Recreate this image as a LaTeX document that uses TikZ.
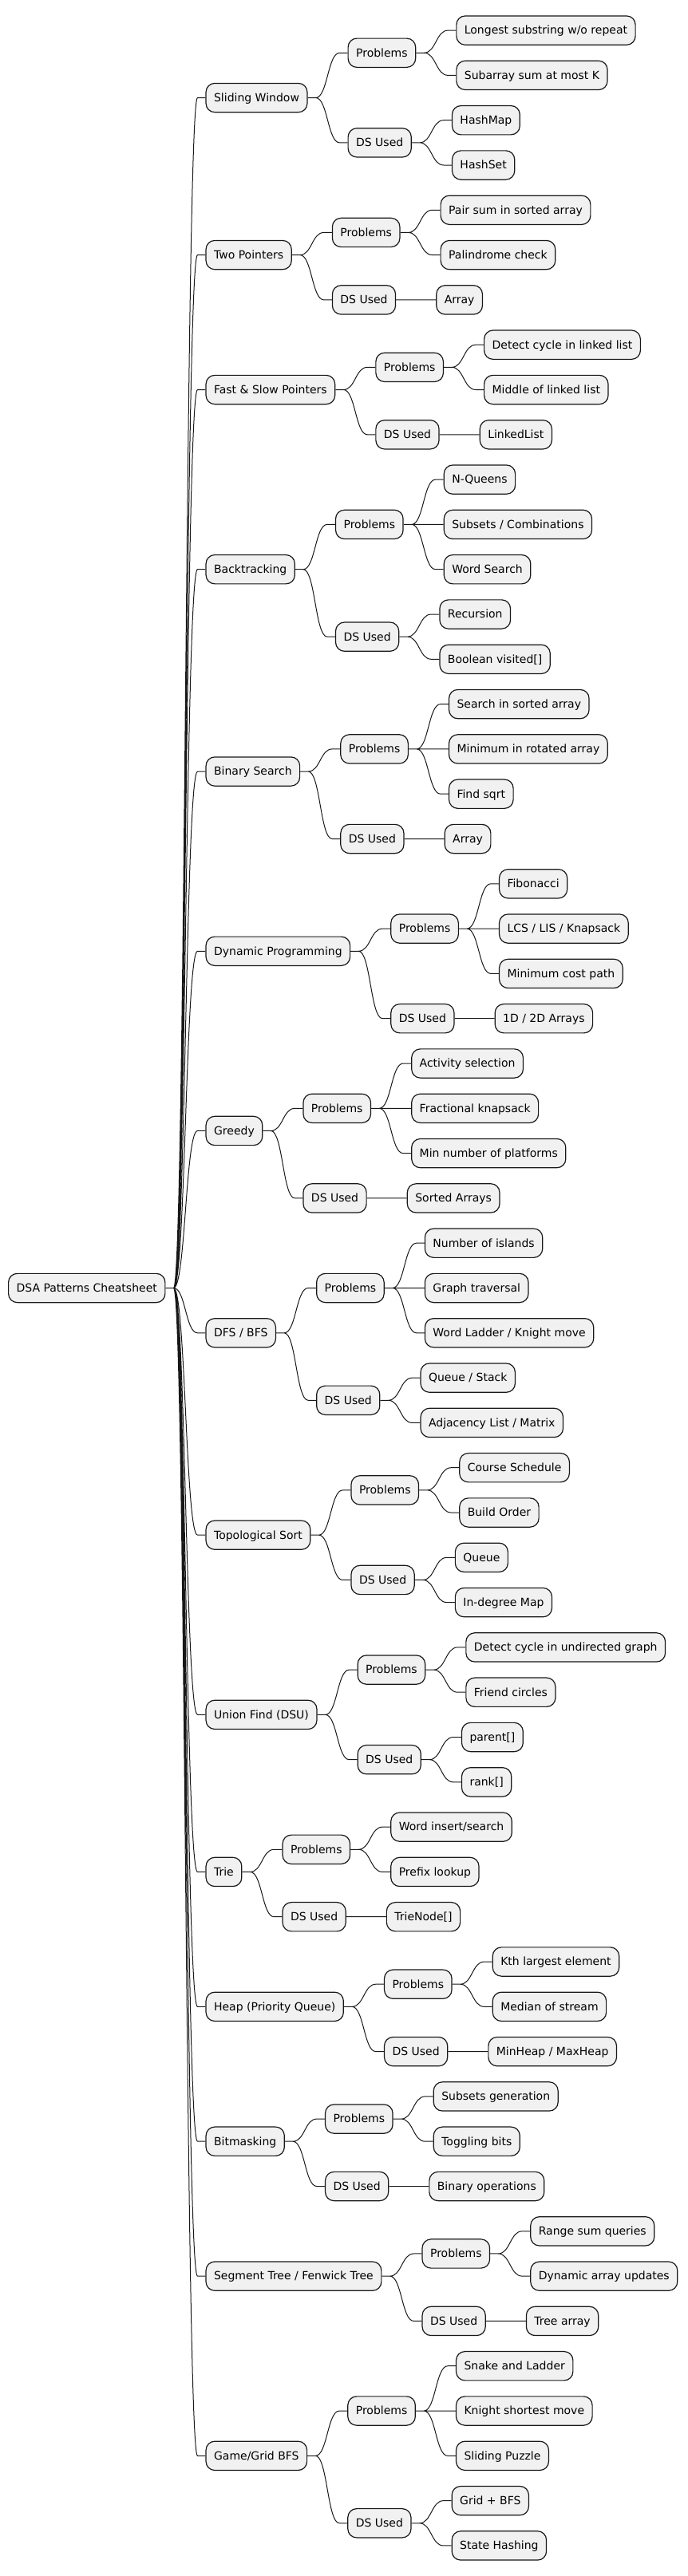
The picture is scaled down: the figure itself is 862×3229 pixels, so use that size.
\documentclass[tikz,border=0pt]{standalone}
\usepackage{fontspec}
\setmainfont{DejaVu Sans}
\usetikzlibrary{positioning}
\definecolor{nodefill}{HTML}{F1F1F1}
\definecolor{nodeline}{HTML}{181818}
\newcommand\leafgap{56.3bp}

\begin{document}
\begin{tikzpicture}[
        box/.style={draw=nodeline, fill=nodefill, line width=1.2bp, rounded corners=11bp,
            inner xsep=10bp, inner ysep=10bp, text height=13bp, text depth=3.3bp,
            font=\fontsize{14bp}{16bp}\selectfont},
        branch/.style={draw=nodeline, line width=1bp,
            to path={-- ++(10bp,0) .. controls +(15bp,0) and +(-15bp,0) .. ([xshift=-10bp]\tikztotarget) -- (\tikztotarget)}}]
        \useasboundingbox (0,0) rectangle (862bp,-3229bp);
        \node[box, anchor=west] (root) at (10bp,-1614.5bp) {DSA Patterns Cheatsheet};

        % Sliding Window
        \node[box, right=50bp of root, yshift=26.5*\leafgap] (sw) {Sliding Window};
        \node[box, right=50bp of sw, yshift=\leafgap] (swp) {Problems};
        \node[box, right=50bp of sw, yshift=-\leafgap] (swd) {DS Used};
        \node[box, right=50bp of swp, yshift=0.5*\leafgap] (swp1) {Longest substring w/o repeat};
        \node[box, right=50bp of swp, yshift=-0.5*\leafgap] (swp2) {Subarray sum at most K};
        \node[box, right=50bp of swd, yshift=0.5*\leafgap] (swd1) {HashMap};
        \node[box, right=50bp of swd, yshift=-0.5*\leafgap] (swd2) {HashSet};

        % Two Pointers
        \node[box, right=50bp of root, yshift=23*\leafgap] (tp) {Two Pointers};
        \node[box, right=50bp of tp, yshift=0.5*\leafgap] (tpp) {Problems};
        \node[box, right=50bp of tp, yshift=-\leafgap] (tpd) {DS Used};
        \node[box, right=50bp of tpp, yshift=0.5*\leafgap] (tpp1) {Pair sum in sorted array};
        \node[box, right=50bp of tpp, yshift=-0.5*\leafgap] (tpp2) {Palindrome check};
        \node[box, right=50bp of tpd] (tpd1) {Array};

        % Fast & Slow Pointers
        \node[box, right=50bp of root, yshift=20*\leafgap] (fs) {Fast \& Slow Pointers};
        \node[box, right=50bp of fs, yshift=0.5*\leafgap] (fsp) {Problems};
        \node[box, right=50bp of fs, yshift=-\leafgap] (fsd) {DS Used};
        \node[box, right=50bp of fsp, yshift=0.5*\leafgap] (fsp1) {Detect cycle in linked list};
        \node[box, right=50bp of fsp, yshift=-0.5*\leafgap] (fsp2) {Middle of linked list};
        \node[box, right=50bp of fsd] (fsd1) {LinkedList};

        % Backtracking
        \node[box, right=50bp of root, yshift=16*\leafgap] (bt) {Backtracking};
        \node[box, right=50bp of bt, yshift=\leafgap] (btp) {Problems};
        \node[box, right=50bp of bt, yshift=-1.5*\leafgap] (btd) {DS Used};
        \node[box, right=50bp of btp, yshift=\leafgap] (btp1) {N-Queens};
        \node[box, right=50bp of btp] (btp2) {Subsets / Combinations};
        \node[box, right=50bp of btp, yshift=-\leafgap] (btp3) {Word Search};
        \node[box, right=50bp of btd, yshift=0.5*\leafgap] (btd1) {Recursion};
        \node[box, right=50bp of btd, yshift=-0.5*\leafgap] (btd2) {Boolean visited[]};

        % Binary Search
        \node[box, right=50bp of root, yshift=11.5*\leafgap] (bs) {Binary Search};
        \node[box, right=50bp of bs, yshift=0.5*\leafgap] (bsp) {Problems};
        \node[box, right=50bp of bs, yshift=-1.5*\leafgap] (bsd) {DS Used};
        \node[box, right=50bp of bsp, yshift=\leafgap] (bsp1) {Search in sorted array};
        \node[box, right=50bp of bsp] (bsp2) {Minimum in rotated array};
        \node[box, right=50bp of bsp, yshift=-\leafgap] (bsp3) {Find sqrt};
        \node[box, right=50bp of bsd] (bsd1) {Array};

        % Dynamic Programming
        \node[box, right=50bp of root, yshift=7.5*\leafgap] (dp) {Dynamic Programming};
        \node[box, right=50bp of dp, yshift=0.5*\leafgap] (dpp) {Problems};
        \node[box, right=50bp of dp, yshift=-1.5*\leafgap] (dpd) {DS Used};
        \node[box, right=50bp of dpp, yshift=\leafgap] (dpp1) {Fibonacci};
        \node[box, right=50bp of dpp] (dpp2) {LCS / LIS / Knapsack};
        \node[box, right=50bp of dpp, yshift=-\leafgap] (dpp3) {Minimum cost path};
        \node[box, right=50bp of dpd] (dpd1) {1D / 2D Arrays};

        % Greedy
        \node[box, right=50bp of root, yshift=3.5*\leafgap] (gr) {Greedy};
        \node[box, right=50bp of gr, yshift=0.5*\leafgap] (grp) {Problems};
        \node[box, right=50bp of gr, yshift=-1.5*\leafgap] (grd) {DS Used};
        \node[box, right=50bp of grp, yshift=\leafgap] (grp1) {Activity selection};
        \node[box, right=50bp of grp] (grp2) {Fractional knapsack};
        \node[box, right=50bp of grp, yshift=-\leafgap] (grp3) {Min number of platforms};
        \node[box, right=50bp of grd] (grd1) {Sorted Arrays};

        % DFS / BFS
        \node[box, right=50bp of root, yshift=-\leafgap] (dfs) {DFS / BFS};
        \node[box, right=50bp of dfs, yshift=\leafgap] (dfsp) {Problems};
        \node[box, right=50bp of dfs, yshift=-1.5*\leafgap] (dfsd) {DS Used};
        \node[box, right=50bp of dfsp, yshift=\leafgap] (dfsp1) {Number of islands};
        \node[box, right=50bp of dfsp] (dfsp2) {Graph traversal};
        \node[box, right=50bp of dfsp, yshift=-\leafgap] (dfsp3) {Word Ladder / Knight move};
        \node[box, right=50bp of dfsd, yshift=0.5*\leafgap] (dfsd1) {Queue / Stack};
        \node[box, right=50bp of dfsd, yshift=-0.5*\leafgap] (dfsd2) {Adjacency List / Matrix};

        % Topological Sort
        \node[box, right=50bp of root, yshift=-5.5*\leafgap] (ts) {Topological Sort};
        \node[box, right=50bp of ts, yshift=\leafgap] (tsp) {Problems};
        \node[box, right=50bp of ts, yshift=-\leafgap] (tsd) {DS Used};
        \node[box, right=50bp of tsp, yshift=0.5*\leafgap] (tsp1) {Course Schedule};
        \node[box, right=50bp of tsp, yshift=-0.5*\leafgap] (tsp2) {Build Order};
        \node[box, right=50bp of tsd, yshift=0.5*\leafgap] (tsd1) {Queue};
        \node[box, right=50bp of tsd, yshift=-0.5*\leafgap] (tsd2) {In-degree Map};

        % Union Find
        \node[box, right=50bp of root, yshift=-9.5*\leafgap] (uf) {Union Find (DSU)};
        \node[box, right=50bp of uf, yshift=\leafgap] (ufp) {Problems};
        \node[box, right=50bp of uf, yshift=-\leafgap] (ufd) {DS Used};
        \node[box, right=50bp of ufp, yshift=0.5*\leafgap] (ufp1) {Detect cycle in undirected graph};
        \node[box, right=50bp of ufp, yshift=-0.5*\leafgap] (ufp2) {Friend circles};
        \node[box, right=50bp of ufd, yshift=0.5*\leafgap] (ufd1) {parent[]};
        \node[box, right=50bp of ufd, yshift=-0.5*\leafgap] (ufd2) {rank[]};

        % Trie
        \node[box, right=50bp of root, yshift=-13*\leafgap] (tr) {Trie};
        \node[box, right=50bp of tr, yshift=0.5*\leafgap] (trp) {Problems};
        \node[box, right=50bp of tr, yshift=-\leafgap] (trd) {DS Used};
        \node[box, right=50bp of trp, yshift=0.5*\leafgap] (trp1) {Word insert/search};
        \node[box, right=50bp of trp, yshift=-0.5*\leafgap] (trp2) {Prefix lookup};
        \node[box, right=50bp of trd] (trd1) {TrieNode[]};

        % Heap
        \node[box, right=50bp of root, yshift=-16*\leafgap] (hp) {Heap (Priority Queue)};
        \node[box, right=50bp of hp, yshift=0.5*\leafgap] (hpp) {Problems};
        \node[box, right=50bp of hp, yshift=-\leafgap] (hpd) {DS Used};
        \node[box, right=50bp of hpp, yshift=0.5*\leafgap] (hpp1) {Kth largest element};
        \node[box, right=50bp of hpp, yshift=-0.5*\leafgap] (hpp2) {Median of stream};
        \node[box, right=50bp of hpd] (hpd1) {MinHeap / MaxHeap};

        % Bitmasking
        \node[box, right=50bp of root, yshift=-19*\leafgap] (bm) {Bitmasking};
        \node[box, right=50bp of bm, yshift=0.5*\leafgap] (bmp) {Problems};
        \node[box, right=50bp of bm, yshift=-\leafgap] (bmd) {DS Used};
        \node[box, right=50bp of bmp, yshift=0.5*\leafgap] (bmp1) {Subsets generation};
        \node[box, right=50bp of bmp, yshift=-0.5*\leafgap] (bmp2) {Toggling bits};
        \node[box, right=50bp of bmd] (bmd1) {Binary operations};

        % Segment Tree
        \node[box, right=50bp of root, yshift=-22*\leafgap] (st) {Segment Tree / Fenwick Tree};
        \node[box, right=50bp of st, yshift=0.5*\leafgap] (stp) {Problems};
        \node[box, right=50bp of st, yshift=-\leafgap] (std) {DS Used};
        \node[box, right=50bp of stp, yshift=0.5*\leafgap] (stp1) {Range sum queries};
        \node[box, right=50bp of stp, yshift=-0.5*\leafgap] (stp2) {Dynamic array updates};
        \node[box, right=50bp of std] (std1) {Tree array};

        % Game/Grid BFS
        \node[box, right=50bp of root, yshift=-26*\leafgap] (gg) {Game/Grid BFS};
        \node[box, right=50bp of gg, yshift=\leafgap] (ggp) {Problems};
        \node[box, right=50bp of gg, yshift=-1.5*\leafgap] (ggd) {DS Used};
        \node[box, right=50bp of ggp, yshift=\leafgap] (ggp1) {Snake and Ladder};
        \node[box, right=50bp of ggp] (ggp2) {Knight shortest move};
        \node[box, right=50bp of ggp, yshift=-\leafgap] (ggp3) {Sliding Puzzle};
        \node[box, right=50bp of ggd, yshift=0.5*\leafgap] (ggd1) {Grid + BFS};
        \node[box, right=50bp of ggd, yshift=-0.5*\leafgap] (ggd2) {State Hashing};

        % connectors
        \draw[branch] (root.east) to (sw.west) (root.east) to (tp.west) (root.east) to (fs.west)
            (root.east) to (bt.west) (root.east) to (bs.west) (root.east) to (dp.west)
            (root.east) to (gr.west) (root.east) to (dfs.west) (root.east) to (ts.west)
            (root.east) to (uf.west) (root.east) to (tr.west) (root.east) to (hp.west)
            (root.east) to (bm.west) (root.east) to (st.west) (root.east) to (gg.west);
        \draw[branch] (sw.east) to (swp.west) (sw.east) to (swd.west)
            (swp.east) to (swp1.west) (swp.east) to (swp2.west)
            (swd.east) to (swd1.west) (swd.east) to (swd2.west);
        \draw[branch] (tp.east) to (tpp.west) (tp.east) to (tpd.west)
            (tpp.east) to (tpp1.west) (tpp.east) to (tpp2.west) (tpd.east) to (tpd1.west);
        \draw[branch] (fs.east) to (fsp.west) (fs.east) to (fsd.west)
            (fsp.east) to (fsp1.west) (fsp.east) to (fsp2.west) (fsd.east) to (fsd1.west);
        \draw[branch] (bt.east) to (btp.west) (bt.east) to (btd.west)
            (btp.east) to (btp1.west) (btp.east) to (btp2.west) (btp.east) to (btp3.west)
            (btd.east) to (btd1.west) (btd.east) to (btd2.west);
        \draw[branch] (bs.east) to (bsp.west) (bs.east) to (bsd.west)
            (bsp.east) to (bsp1.west) (bsp.east) to (bsp2.west) (bsp.east) to (bsp3.west)
            (bsd.east) to (bsd1.west);
        \draw[branch] (dp.east) to (dpp.west) (dp.east) to (dpd.west)
            (dpp.east) to (dpp1.west) (dpp.east) to (dpp2.west) (dpp.east) to (dpp3.west)
            (dpd.east) to (dpd1.west);
        \draw[branch] (gr.east) to (grp.west) (gr.east) to (grd.west)
            (grp.east) to (grp1.west) (grp.east) to (grp2.west) (grp.east) to (grp3.west)
            (grd.east) to (grd1.west);
        \draw[branch] (dfs.east) to (dfsp.west) (dfs.east) to (dfsd.west)
            (dfsp.east) to (dfsp1.west) (dfsp.east) to (dfsp2.west) (dfsp.east) to (dfsp3.west)
            (dfsd.east) to (dfsd1.west) (dfsd.east) to (dfsd2.west);
        \draw[branch] (ts.east) to (tsp.west) (ts.east) to (tsd.west)
            (tsp.east) to (tsp1.west) (tsp.east) to (tsp2.west)
            (tsd.east) to (tsd1.west) (tsd.east) to (tsd2.west);
        \draw[branch] (uf.east) to (ufp.west) (uf.east) to (ufd.west)
            (ufp.east) to (ufp1.west) (ufp.east) to (ufp2.west)
            (ufd.east) to (ufd1.west) (ufd.east) to (ufd2.west);
        \draw[branch] (tr.east) to (trp.west) (tr.east) to (trd.west)
            (trp.east) to (trp1.west) (trp.east) to (trp2.west) (trd.east) to (trd1.west);
        \draw[branch] (hp.east) to (hpp.west) (hp.east) to (hpd.west)
            (hpp.east) to (hpp1.west) (hpp.east) to (hpp2.west) (hpd.east) to (hpd1.west);
        \draw[branch] (bm.east) to (bmp.west) (bm.east) to (bmd.west)
            (bmp.east) to (bmp1.west) (bmp.east) to (bmp2.west) (bmd.east) to (bmd1.west);
        \draw[branch] (st.east) to (stp.west) (st.east) to (std.west)
            (stp.east) to (stp1.west) (stp.east) to (stp2.west) (std.east) to (std1.west);
        \draw[branch] (gg.east) to (ggp.west) (gg.east) to (ggd.west)
            (ggp.east) to (ggp1.west) (ggp.east) to (ggp2.west) (ggp.east) to (ggp3.west)
            (ggd.east) to (ggd1.west) (ggd.east) to (ggd2.west);
    \end{tikzpicture}
\end{document}
